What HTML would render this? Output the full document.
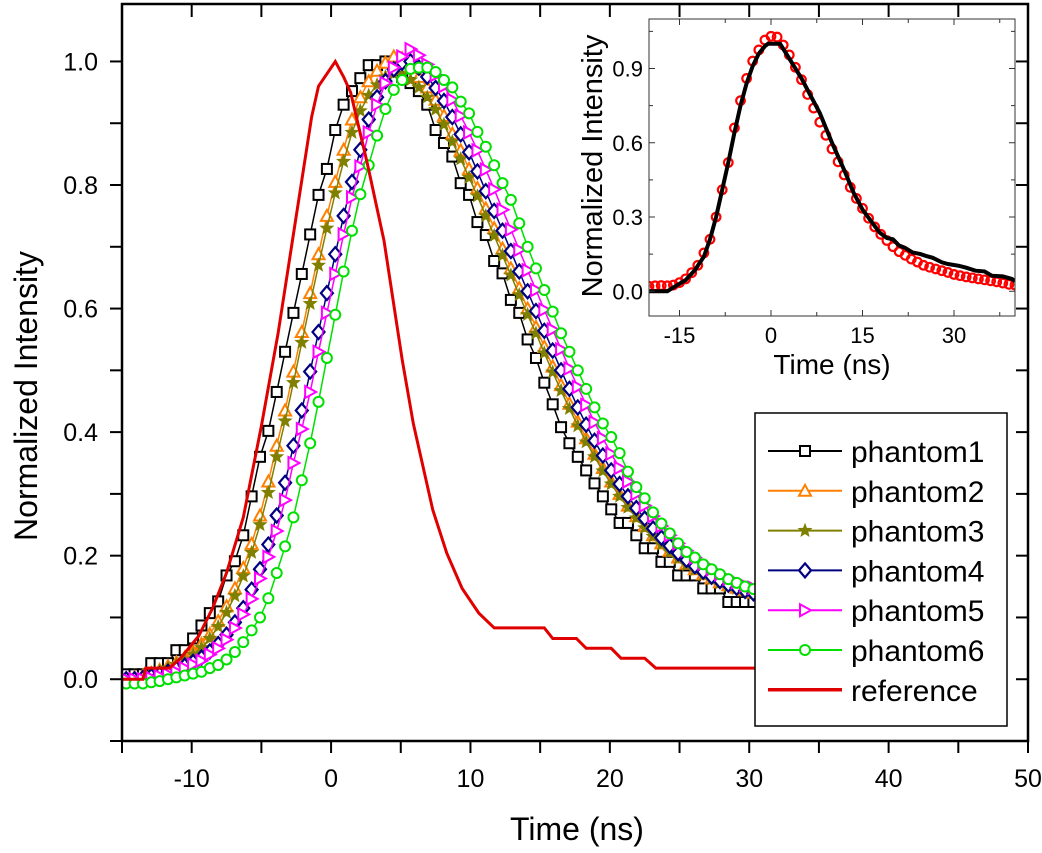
<!DOCTYPE html>
<html><head><meta charset="utf-8"><style>
html,body{margin:0;padding:0;background:#fff;}
svg{display:block;font-family:"Liberation Sans",Arial,sans-serif;}
</style></head><body>
<svg id="chart" width="1042" height="853" viewBox="0 0 1042 853" xmlns="http://www.w3.org/2000/svg"></svg>
<script>
const times = [-14.7,-14.1,-13.5,-12.9,-12.3,-11.7,-11.1,-10.5,-9.9,-9.3,-8.7,-8.1,-7.5,-6.9,-6.3,-5.7,-5.1,-4.5,-3.9,-3.3,-2.7,-2.1,-1.5,-0.9,-0.3,0.3,0.9,1.5,2.1,2.7,3.3,3.9,4.5,5.1,5.7,6.3,6.9,7.5,8.1,8.7,9.3,9.9,10.5,11.1,11.7,12.3,12.9,13.5,14.1,14.7,15.3,15.9,16.5,17.1,17.7,18.3,18.9,19.5,20.1,20.7,21.3,21.9,22.5,23.1,23.7,24.3,24.9,25.5,26.1,26.7,27.3,27.9,28.5,29.1,29.7,30.3,30.9];
const phantom1 = [0.008,0.008,0.008,0.026,0.026,0.026,0.047,0.047,0.066,0.087,0.107,0.126,0.168,0.191,0.233,0.296,0.36,0.402,0.465,0.53,0.593,0.656,0.72,0.784,0.826,0.889,0.93,0.952,0.973,0.994,0.994,1.0,0.994,0.975,0.965,0.952,0.93,0.889,0.868,0.846,0.803,0.784,0.74,0.719,0.677,0.657,0.614,0.593,0.55,0.52,0.48,0.445,0.408,0.382,0.36,0.338,0.317,0.296,0.275,0.253,0.253,0.233,0.212,0.212,0.19,0.19,0.168,0.168,0.168,0.147,0.147,0.147,0.125,0.125,0.125,0.125,0.125];
const phantom2 = [0.0,0.003,0.006,0.01,0.015,0.021,0.027,0.035,0.045,0.057,0.073,0.094,0.118,0.147,0.18,0.219,0.265,0.32,0.378,0.435,0.498,0.562,0.625,0.688,0.75,0.805,0.857,0.906,0.942,0.968,0.985,0.998,1.008,1.005,0.99,0.975,0.958,0.938,0.912,0.883,0.856,0.826,0.795,0.762,0.73,0.697,0.665,0.633,0.6,0.57,0.538,0.506,0.476,0.446,0.417,0.39,0.365,0.342,0.32,0.3,0.281,0.264,0.248,0.233,0.22,0.208,0.197,0.187,0.178,0.17,0.163,0.157,0.152,0.148,0.144,0.14,0.137];
const phantom3 = [0,0.002,0.005,0.009,0.013,0.018,0.024,0.031,0.04,0.051,0.066,0.085,0.108,0.135,0.167,0.205,0.25,0.302,0.36,0.418,0.48,0.545,0.608,0.67,0.73,0.787,0.838,0.885,0.92,0.945,0.962,0.975,0.98,0.978,0.97,0.958,0.942,0.922,0.898,0.87,0.842,0.812,0.782,0.75,0.718,0.686,0.654,0.622,0.59,0.56,0.528,0.497,0.467,0.438,0.41,0.384,0.36,0.337,0.316,0.296,0.278,0.261,0.245,0.231,0.218,0.206,0.195,0.185,0.177,0.169,0.162,0.156,0.151,0.147,0.143,0.139,0.136];
const phantom4 = [0,0,0.002,0.005,0.008,0.012,0.017,0.022,0.028,0.035,0.045,0.057,0.072,0.092,0.115,0.145,0.178,0.218,0.265,0.318,0.378,0.435,0.498,0.562,0.625,0.688,0.75,0.805,0.857,0.906,0.942,0.968,0.987,0.998,1.0,0.99,0.975,0.957,0.936,0.91,0.882,0.853,0.822,0.79,0.758,0.726,0.693,0.66,0.628,0.596,0.564,0.532,0.5,0.47,0.44,0.412,0.386,0.362,0.338,0.316,0.296,0.277,0.26,0.244,0.229,0.216,0.204,0.193,0.183,0.174,0.166,0.159,0.153,0.148,0.143,0.139,0.135];
const phantom5 = [0,0,0,0.002,0.005,0.008,0.012,0.018,0.024,0.03,0.04,0.05,0.064,0.083,0.105,0.13,0.163,0.198,0.24,0.29,0.35,0.405,0.465,0.53,0.593,0.656,0.72,0.78,0.83,0.885,0.93,0.965,0.99,1.008,1.02,1.01,0.995,0.978,0.96,0.938,0.912,0.885,0.856,0.825,0.793,0.76,0.728,0.695,0.662,0.63,0.598,0.566,0.534,0.503,0.473,0.444,0.416,0.39,0.365,0.342,0.32,0.3,0.281,0.264,0.248,0.233,0.22,0.208,0.197,0.187,0.178,0.17,0.163,0.157,0.152,0.148,0.144];
const phantom6 = [-0.007,-0.007,-0.007,-0.005,-0.003,0,0.003,0.006,0.009,0.012,0.018,0.023,0.032,0.044,0.06,0.079,0.1,0.131,0.172,0.215,0.262,0.322,0.382,0.449,0.52,0.59,0.66,0.726,0.785,0.832,0.88,0.923,0.954,0.97,0.988,0.99,0.99,0.983,0.97,0.958,0.935,0.916,0.886,0.862,0.832,0.803,0.776,0.738,0.70,0.665,0.63,0.595,0.56,0.53,0.5,0.47,0.44,0.414,0.392,0.366,0.336,0.311,0.293,0.27,0.252,0.236,0.22,0.206,0.197,0.186,0.178,0.17,0.162,0.156,0.15,0.146,0.142];
const refTimes = [-15,-13.5,-13.3,-11.6,-10.8,-9.5,-8.5,-7.5,-6.3,-5,-3.8,-2.7,-1.4,-0.9,0.3,0.9,1.4,2.6,3.8,5.1,5.9,7.3,8.3,9.4,10.6,11.7,15.3,15.9,17.6,18.3,20.1,20.8,22.5,23.3,31];
const refValues = [0,0,0.018,0.018,0.034,0.07,0.115,0.172,0.262,0.41,0.56,0.72,0.91,0.96,1.0,0.975,0.95,0.835,0.71,0.517,0.414,0.274,0.204,0.147,0.107,0.083,0.083,0.066,0.066,0.05,0.05,0.034,0.034,0.018,0.018];
const xTicks = [-10,0,10,20,30,40,50];
const yTicks = [0.0,0.2,0.4,0.6,0.8,1.0];
const insetRedT = [-20,-19,-18,-17,-16,-15,-14,-13,-12,-11,-10,-9,-8,-7,-6,-5,-4,-3,-2,-1,0,1,2,3,4,5,6,7,8,9,10,11,12,13,14,15,16,17,18,19,20,21,22,23,24,25,26,27,28,29,30,31,32,33,34,35,36,37,38,39,40];
const insetRedV = [0.02,0.022,0.023,0.022,0.025,0.035,0.05,0.075,0.105,0.155,0.21,0.3,0.41,0.52,0.66,0.77,0.86,0.93,0.975,1.015,1.03,1.027,0.995,0.955,0.905,0.855,0.795,0.74,0.683,0.63,0.575,0.523,0.47,0.42,0.375,0.335,0.295,0.26,0.23,0.205,0.18,0.16,0.145,0.13,0.118,0.105,0.097,0.09,0.083,0.076,0.068,0.063,0.058,0.054,0.05,0.046,0.042,0.038,0.033,0.028,0.025];
const insetBlackT = [-20,-17,-15.5,-14,-12.5,-11,-10,-9,-8,-7,-6,-5,-4,-3,-2,-1,-0.5,1.5,3,5,6.5,8,10,12,13.5,15,16.5,17.8,19,20,21,22,23.2,24.5,25.4,26.5,28,29,30.8,32,33.5,35,36.2,38,39.5,40];
const insetBlackV = [0.0,0.0,0.023,0.045,0.085,0.14,0.21,0.3,0.41,0.52,0.64,0.75,0.84,0.91,0.96,0.99,1.0,1.0,0.94,0.86,0.79,0.72,0.6,0.49,0.4,0.33,0.28,0.237,0.215,0.21,0.185,0.175,0.157,0.15,0.143,0.135,0.117,0.11,0.103,0.095,0.083,0.08,0.063,0.06,0.05,0.04];
const insetXTicks = [-15,0,15,30];
const insetYTicks = [0.0,0.3,0.6,0.9];

const NS = 'http://www.w3.org/2000/svg';
const svg = document.getElementById('chart');
function mk(tag, attrs, parent){const e=document.createElementNS(NS,tag);for(const k in attrs)e.setAttribute(k,attrs[k]);(parent||svg).appendChild(e);return e;}

const X0=122,X1=1028,Y0=741,Y1=4, xmin=-15,xmax=50,ymin=-0.1,ymax=1.093;
const xs = t => X0+(t-xmin)/(xmax-xmin)*(X1-X0);
const ys = v => Y0-(v-ymin)/(ymax-ymin)*(Y0-Y1);

const plot = mk('g',{});


const defs = mk('defs',{});
const cp = mk('clipPath',{id:'mainclip'},defs); mk('rect',{x:X0,y:Y1,width:X1-X0,height:Y0-Y1},cp);
const cp2 = mk('clipPath',{id:'insetclip'},defs); mk('rect',{x:649,y:19,width:366,height:297},cp2);

function marker(g, type, x, y, color){
  let e;
  if(type==='square') e=mk('rect',{x:x-5,y:y-5,width:10,height:10,fill:'#fff',stroke:color,'stroke-width':2},g);
  else if(type==='tri') e=mk('polygon',{points:`${x},${y-6} ${x+6},${y+5} ${x-6},${y+5}`,fill:'#fff',stroke:color,'stroke-width':2},g);
  else if(type==='star'){let p=[];for(let i=0;i<10;i++){const r=i%2?2.8:6.5,a=-Math.PI/2+i*Math.PI/5;p.push((x+r*Math.cos(a)).toFixed(1)+','+(y+r*Math.sin(a)).toFixed(1));}e=mk('polygon',{points:p.join(' '),fill:color,stroke:color,'stroke-width':1},g);}
  else if(type==='diamond') e=mk('polygon',{points:`${x},${y-7} ${x+6},${y} ${x},${y+7} ${x-6},${y}`,fill:'#fff',stroke:color,'stroke-width':2.2},g);
  else if(type==='rtri') e=mk('polygon',{points:`${x-5},${y-6} ${x+6},${y} ${x-5},${y+6}`,fill:'#fff',stroke:color,'stroke-width':2},g);
  else if(type==='circle') e=mk('circle',{cx:x,cy:y,r:5,fill:'#fff',stroke:color,'stroke-width':2},g);
  return e;
}

const series = [
  {name:'phantom1',vals:phantom1,color:'#000000',m:'square'},
  {name:'phantom2',vals:phantom2,color:'#ff8000',m:'tri'},
  {name:'phantom3',vals:phantom3,color:'#808000',m:'star'},
  {name:'phantom4',vals:phantom4,color:'#000080',m:'diamond'},
  {name:'phantom5',vals:phantom5,color:'#ff00ff',m:'rtri'},
  {name:'phantom6',vals:phantom6,color:'#00e000',m:'circle'}
];
const dataG = mk('g',{'clip-path':'url(#mainclip)'},plot);
series.forEach(s=>{
  const g=mk('g',{},dataG);
  
  
  const pts=times.map((t,i)=>xs(t).toFixed(1)+','+ys(s.vals[i]).toFixed(1)).join(' ');
  const ln=mk('polyline',{points:pts,fill:'none',stroke:s.color,'stroke-width':1.5},g);
  
  
  times.forEach((t,i)=>{const m=marker(g,s.m,xs(t),ys(s.vals[i]),s.color);
    
    });
});
const refLine = mk('polyline',{points:refTimes.map((t,i)=>xs(t).toFixed(1)+','+ys(refValues[i]).toFixed(1)).join(' '),fill:'none',stroke:'#e00000','stroke-width':3},dataG);



const frame = mk('rect',{x:X0,y:Y1,width:X1-X0,height:Y0-Y1,fill:'none',stroke:'#000','stroke-width':2.5},plot);


for(let t=-15;t<=50;t+=5){const x=xs(t);
  mk('line',{x1:x,y1:Y0,x2:x,y2:Y0+12,stroke:'#000','stroke-width':2},plot);
  mk('line',{x1:x,y1:Y1,x2:x,y2:Y1+13,stroke:'#000','stroke-width':2},plot);}
for(let k=-1;k<=10;k++){const y=ys(k/10);
  mk('line',{x1:X0-12,y1:y,x2:X0,y2:y,stroke:'#000','stroke-width':2},plot);
  mk('line',{x1:X1,y1:y,x2:X1-12,y2:y,stroke:'#000','stroke-width':2},plot);}
xTicks.forEach(t=>{const e=mk('text',{x:xs(t),y:787,'font-size':25,'text-anchor':'middle'},plot);e.textContent=t;
  });
yTicks.forEach(v=>{const e=mk('text',{x:98,y:ys(v)+9,'font-size':25,'text-anchor':'end'},plot);e.textContent=v.toFixed(1);
  });
const xt=mk('text',{x:577,y:840,'font-size':32,'text-anchor':'middle'},plot);xt.textContent='Time (ns)';

const yt=mk('text',{x:0,y:0,'font-size':32,'text-anchor':'middle',transform:'translate(37,396) rotate(-90)'},plot);yt.textContent='Normalized Intensity';


const leg=mk('g',{});


mk('rect',{x:755,y:413,width:252,height:313,fill:'#fff',stroke:'#000','stroke-width':1.5},leg);
series.forEach((s,i)=>{const y=451+i*39.8;
  const g=mk('g',{},leg);
  
  
  mk('line',{x1:768,y1:y,x2:842,y2:y,stroke:s.color,'stroke-width':2},g);
  marker(g,s.m,805,y,s.color);
  const t=mk('text',{x:851,y:y+11,'font-size':30},g);t.textContent=s.name;});
{const y=451+6*39.8;const g=mk('g',{},leg);
  
  
  mk('line',{x1:768,y1:y,x2:842,y2:y,stroke:'#e00000','stroke-width':3.5},g);
  const t=mk('text',{x:851,y:y+11,'font-size':30},g);t.textContent='reference';}

const IX0=649,IX1=1015,IY0=316,IY1=19;
const ixs=t=>IX0+(t+20)/60*(IX1-IX0);
const iys=v=>IY0-(v+0.1)/1.2*(IY0-IY1);
const ins=mk('g',{});


mk('rect',{x:IX0,y:IY1,width:IX1-IX0,height:IY0-IY1,fill:'#fff',stroke:'none'},ins);
const idg=mk('g',{'clip-path':'url(#insetclip)'},ins);
const rg=mk('g',{},idg);


insetRedT.forEach((t,i)=>{const c=mk('circle',{cx:ixs(t),cy:iys(insetRedV[i]),r:4.3,fill:'none',stroke:'#ff0000','stroke-width':2.2},rg);
  });
const bl=mk('polyline',{points:insetBlackT.map((t,i)=>ixs(t).toFixed(1)+','+iys(insetBlackV[i]).toFixed(1)).join(' '),fill:'none',stroke:'#000','stroke-width':4},idg);

mk('rect',{x:IX0,y:IY1,width:IX1-IX0,height:IY0-IY1,fill:'none',stroke:'#333','stroke-width':1},ins);
for(let t=-15;t<=40;t+=7.5){const x=ixs(t);
  mk('line',{x1:x,y1:IY0,x2:x,y2:IY0-(t%15===0?6:4),stroke:'#333','stroke-width':1},ins);
  mk('line',{x1:x,y1:IY1,x2:x,y2:IY1+(t%15===0?6:4),stroke:'#333','stroke-width':1},ins);}
for(let k=0;k<=7;k++){const v=k*0.15,y=iys(v);
  mk('line',{x1:IX0,y1:y,x2:IX0+(k%2?4:6),y2:y,stroke:'#333','stroke-width':1},ins);
  mk('line',{x1:IX1,y1:y,x2:IX1-(k%2?4:6),y2:y,stroke:'#333','stroke-width':1},ins);}
insetXTicks.forEach(t=>{const e=mk('text',{x:ixs(t),y:343,'font-size':22,'text-anchor':'middle'},ins);e.textContent=t;
  });
insetYTicks.forEach(v=>{const e=mk('text',{x:643,y:iys(v)+8,'font-size':22,'text-anchor':'end'},ins);e.textContent=v.toFixed(1);
  });
const ixt=mk('text',{x:832,y:374,'font-size':28,'text-anchor':'middle'},ins);ixt.textContent='Time (ns)';

const iyt=mk('text',{x:0,y:0,'font-size':29,'text-anchor':'middle',transform:'translate(602,166) rotate(-90)'},ins);iyt.textContent='Normalized Intensity';

</script>
</body></html>
